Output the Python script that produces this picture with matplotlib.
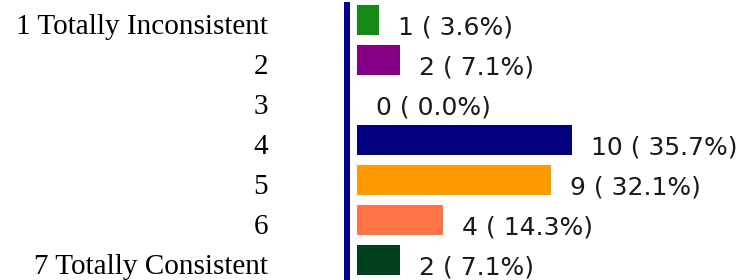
import matplotlib
matplotlib.use('Agg')
import matplotlib.pyplot as plt

# Datos
categories = ['1 Totally Inconsistent', '2', '3', '4', '5', '6', '7 Totally Consistent']
counts = [1, 2, 0, 10, 9, 4, 2]
colors = ['#138a13', '#850085', '#0a0a80', '#000080', '#ff9900', '#ff7346', '#00401c']

total = sum(counts)

fig = plt.figure(figsize=(7.44, 2.8), dpi=100)
fig.patch.set_facecolor('white')

# eje: borde izquierdo = linea azul (px 347), barras empiezan en px 357, 21.5 px por unidad
ax = fig.add_axes([347 / 744, 0, 397 / 744, 1])
ax.set_xlim(-10 / 21.5, 387 / 21.5)
ax.set_ylim(len(categories) - 0.5, -0.5)

ypos = list(range(len(categories)))
ax.barh(ypos, counts, height=0.75, color=colors, left=0)

for s in ['top', 'right', 'bottom']:
    ax.spines[s].set_visible(False)
ax.spines['left'].set_color('#00008c')
ax.spines['left'].set_linewidth(6 * 0.72)
ax.spines['left'].set_bounds(-0.375, len(categories) - 0.5)
ax.set_xticks([])
ax.set_yticks([])

# etiquetas de categorias
for i, cat in enumerate(categories):
    ax.annotate(cat, xy=(0, i), xycoords=ax.get_yaxis_transform(),
                xytext=(-79, -14), textcoords='offset pixels',
                ha='right', va='baseline', fontsize=21,
                family='Liberation Serif', color='black', annotation_clip=False)

# etiquetas de valores
for i, v in enumerate(counts):
    pct = 100.0 * v / total
    ax.annotate(f"{v} ( {pct:.1f}%)", xy=(v, i), xytext=(19, -14.5),
                textcoords='offset pixels', ha='left', va='baseline',
                fontsize=18, family='DejaVu Sans', color='#1a1a1a',
                annotation_clip=False)

fig.savefig('out.png', dpi=100, facecolor='white')
